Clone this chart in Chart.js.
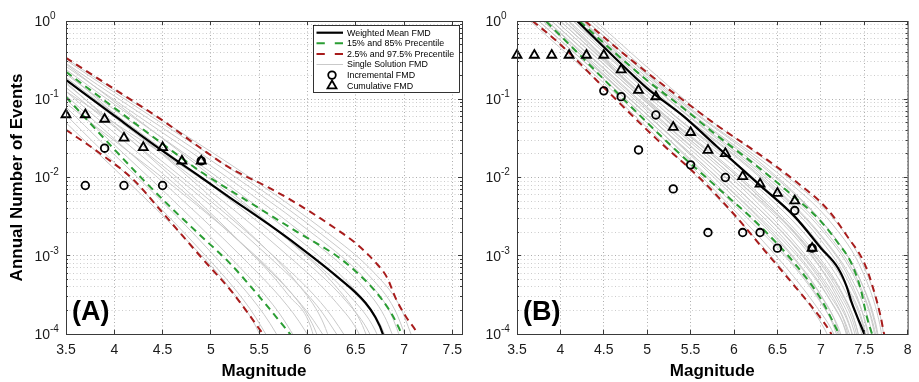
<!DOCTYPE html>
<html>
<head>
<meta charset="utf-8">
<script src="https://cdn.jsdelivr.net/npm/chart.js@4/dist/chart.umd.min.js"></script>
<style>
  body { margin: 0; background: #fff; }
  #wrap { position: relative; width: 919px; height: 382px; }
  #chartA { position: absolute; left: 0; top: 0; }
  #chartB { position: absolute; left: 470px; top: 0; }
</style>
</head>
<body>
<div id="wrap">
  <canvas id="chartA" width="470" height="382"></canvas>
  <canvas id="chartB" width="449" height="382"></canvas>
</div>
<script>
// ---- observed catalogue (magnitude bins of 0.2) ----
const binsA = [3.5, 3.7, 3.9, 4.1, 4.3, 4.5, 4.7, 4.9];
const incrementalA = [null, 0.0079, 0.0237, 0.0079, null, 0.0079, null, 0.0163];
const cumulativeA = [0.0636, 0.0636, 0.0557, 0.032, 0.0242, 0.0242, 0.0163, 0.0163];

const binsB = [3.5, 3.7, 3.9, 4.1, 4.3, 4.5, 4.7, 4.9, 5.1, 5.3, 5.5, 5.7, 5.9, 6.1, 6.3, 6.5, 6.7, 6.9];
const incrementalB = [null, null, null, null, null, 0.128, 0.108, 0.0225, 0.063, 0.00715, 0.0145, 0.00198, 0.0100, 0.00198, 0.00198, 0.00125, 0.00378, 0.00125];
const cumulativeB = [0.366, 0.366, 0.366, 0.366, 0.366, 0.366, 0.238, 0.130, 0.108, 0.0439, 0.0377, 0.0223, 0.0203, 0.0103, 0.00828, 0.0063, 0.00503, 0.00125];

// ---- model curves as log10(annual rate) ----
const meanA_m = [3.5, 4.0, 4.5, 4.9, 5.2, 5.6, 5.9, 6.3, 6.6, 6.7, 6.78, 6.82];
const meanA_log = [-0.754, -1.21, -1.66, -2.0, -2.26, -2.6, -2.87, -3.26, -3.6, -3.78, -4.0, -4.2];
const p85A_m = [3.5, 4.0, 4.5, 4.9, 5.3, 5.6, 5.9, 6.3, 6.5, 6.7, 6.85, 6.93, 6.97, 7.0];
const p85A_log = [-0.65, -1.11, -1.57, -1.93, -2.24, -2.47, -2.70, -3.0, -3.2, -3.45, -3.7, -3.88, -4.0, -4.2];
const p15A_m = [3.5, 4.0, 4.3, 4.6, 4.9, 5.2, 5.5, 5.82, 5.9];
const p15A_log = [-0.97, -1.64, -2.03, -2.4, -2.75, -3.1, -3.52, -4.0, -4.12];
const p975A_m = [3.5, 4.0, 4.5, 4.9, 5.2, 5.6, 5.9, 6.3, 6.5, 6.7, 6.82, 6.92, 7.02, 7.14, 7.2];
const p975A_log = [-0.47, -0.87, -1.27, -1.63, -1.88, -2.13, -2.34, -2.66, -2.84, -3.08, -3.27, -3.56, -3.78, -4.0, -4.2];
const p025A_m = [3.5, 3.85, 4.2, 4.5, 4.9, 5.23, 5.54, 5.6];
const p025A_log = [-1.39, -1.69, -2.03, -2.45, -3.02, -3.48, -4.0, -4.1];

const meanB_m = [4.1, 4.6, 5.0, 5.4, 5.8, 6.3, 6.7, 7.0, 7.2, 7.3, 7.35, 7.42, 7.5, 7.53];
const meanB_log = [0.1, -0.44, -0.86, -1.2, -1.6, -2.1, -2.5, -2.9, -3.16, -3.4, -3.58, -3.78, -4.0, -4.1];
const p85B_m = [4.12, 4.6, 5.0, 5.4, 5.8, 6.2, 6.6, 7.0, 7.2, 7.35, 7.46, 7.53, 7.59, 7.62];
const p85B_log = [0.1, -0.38, -0.76, -1.1, -1.46, -1.8, -2.16, -2.56, -2.84, -3.09, -3.43, -3.78, -4.0, -4.1];
const p15B_m = [3.74, 4.3, 4.8, 5.3, 5.8, 6.3, 6.7, 7.0, 7.2, 7.25];
const p15B_log = [0.1, -0.52, -1.08, -1.62, -2.12, -2.62, -3.1, -3.55, -3.98, -4.1];
const p975B_m = [4.18, 4.6, 5.0, 5.4, 5.8, 6.25, 6.7, 7.08, 7.31, 7.5, 7.61, 7.69, 7.73, 7.76];
const p975B_log = [0.1, -0.3, -0.66, -1.0, -1.33, -1.67, -2.04, -2.41, -2.76, -3.09, -3.44, -3.78, -4.0, -4.1];
const p025B_m = [3.57, 4.0, 4.5, 5.1, 5.6, 6.0, 6.35, 6.7, 7.0, 7.12, 7.16];
const p025B_log = [0.1, -0.3, -0.85, -1.5, -2.0, -2.47, -2.93, -3.39, -3.8, -4.0, -4.1];

// single solution FMDs, [magnitude, log10 rate]
const greyA = [
  [[3.5, -0.48], [6.2, -2.70], [6.7, -3.23], [6.95, -3.63], [7.1, -4.09]],
  [[3.5, -0.5], [6.15, -2.73], [6.65, -3.27], [6.9, -3.68], [7.05, -4.14]],
  [[3.5, -0.54], [6.1, -2.76], [6.6, -3.30], [6.85, -3.71], [7.0, -4.18]],
  [[3.5, -0.58], [6.05, -2.81], [6.55, -3.36], [6.8, -3.78], [6.95, -4.24]],
  [[3.5, -0.62], [6.0, -2.88], [6.5, -3.45], [6.75, -3.87], [6.9, -4.34]],
  [[3.5, -0.68], [5.95, -2.95], [6.45, -3.53], [6.7, -3.95], [6.85, -4.43]],
  [[3.5, -0.72], [5.9, -2.99], [6.4, -3.58], [6.65, -4.01], [6.8, -4.5]],
  [[3.5, -0.75], [5.8, -3.0], [6.3, -3.6], [6.55, -4.04], [6.65, -4.4]],
  [[3.5, -0.8], [5.7, -3.06], [6.2, -3.69], [6.45, -4.14]],
  [[3.5, -0.85], [5.6, -3.01], [6.1, -3.64], [6.35, -4.09]],
  [[3.5, -0.9], [5.5, -3.06], [6.0, -3.72], [6.25, -4.18]],
  [[3.5, -0.95], [5.35, -3.05], [5.85, -3.73], [6.1, -4.2]],
  [[3.5, -1.0], [5.2, -3.02], [5.7, -3.72], [5.95, -4.21]],
  [[3.5, -1.1], [5.05, -3.02], [5.55, -3.75], [5.8, -4.25]],
  [[3.5, -1.2], [4.9, -2.94], [5.4, -3.67], [5.65, -4.17]],
  [[3.5, -1.3], [4.75, -2.80], [5.25, -3.5], [5.5, -3.99], [5.65, -4.5]],
  [[3.5, -0.55], [5.8, -2.80], [6.3, -3.4], [6.55, -3.84], [6.7, -4.32]],
  [[3.5, -0.65], [5.4, -2.71], [5.9, -3.36], [6.15, -3.82], [6.3, -4.32]],
  [[3.5, -0.9], [6.0, -2.96], [6.5, -3.49], [6.75, -3.89], [6.9, -4.35]],
  [[3.5, -1.05], [5.3, -2.82], [5.8, -3.43], [6.05, -3.87], [6.2, -4.35]],
  [[3.5, -0.78], [5.3, -2.82], [5.8, -3.5], [6.05, -3.97], [6.12, -4.4]]
];
const greyB = [
  [[3.55, 0.1], [4.8, -1.15], [5.8, -2.25], [6.5, -3.1], [6.85, -3.6], [7.05, -3.95], [7.15, -4.2]],
  [[3.6, 0.1], [4.9, -1.2], [5.9, -2.3], [6.6, -3.15], [6.95, -3.65], [7.15, -4.0], [7.25, -4.3]],
  [[3.65, 0.1], [5.0, -1.25], [6.0, -2.35], [6.7, -3.15], [7.0, -3.6], [7.2, -4.0], [7.28, -4.3]],
  [[3.65, 0.1], [4.9, -1.15], [5.9, -2.2], [6.6, -3.0], [6.98, -3.55], [7.18, -4.0], [7.25, -4.3]],
  [[3.7, 0.1], [5.0, -1.2], [6.0, -2.25], [6.7, -3.05], [7.05, -3.6], [7.23, -4.0], [7.3, -4.3]],
  [[3.7, 0.1], [4.9, -1.1], [5.9, -2.1], [6.6, -2.9], [7.0, -3.5], [7.2, -3.95], [7.27, -4.3]],
  [[3.75, 0.1], [5.0, -1.15], [6.0, -2.15], [6.75, -3.0], [7.1, -3.55], [7.28, -3.95], [7.35, -4.3]],
  [[3.75, 0.1], [5.1, -1.3], [6.1, -2.3], [6.8, -3.1], [7.15, -3.65], [7.3, -4.0], [7.36, -4.3]],
  [[3.8, 0.1], [5.1, -1.2], [6.1, -2.2], [6.8, -3.0], [7.15, -3.55], [7.33, -4.0], [7.4, -4.3]],
  [[3.8, 0.1], [5.0, -1.12], [6.0, -2.1], [6.75, -2.95], [7.1, -3.5], [7.3, -3.95], [7.36, -4.3]],
  [[3.85, 0.1], [5.1, -1.15], [6.1, -2.1], [6.85, -2.95], [7.2, -3.5], [7.38, -3.95], [7.45, -4.3]],
  [[3.85, 0.1], [5.0, -1.05], [6.0, -2.0], [6.8, -2.85], [7.15, -3.45], [7.35, -3.95], [7.42, -4.3]],
  [[3.9, 0.1], [5.2, -1.2], [6.2, -2.15], [6.9, -2.95], [7.25, -3.5], [7.42, -3.95], [7.48, -4.3]],
  [[3.9, 0.1], [5.1, -1.12], [6.1, -2.05], [6.85, -2.9], [7.2, -3.45], [7.4, -3.95], [7.46, -4.3]],
  [[3.95, 0.1], [5.2, -1.15], [6.2, -2.05], [6.95, -2.9], [7.28, -3.45], [7.46, -3.95], [7.52, -4.3]],
  [[3.95, 0.1], [5.1, -1.1], [6.1, -2.02], [6.85, -2.85], [7.22, -3.42], [7.42, -3.95], [7.48, -4.3]],
  [[4.0, 0.1], [5.3, -1.2], [6.3, -2.1], [7.0, -2.9], [7.32, -3.45], [7.5, -3.95], [7.56, -4.3]],
  [[4.0, 0.1], [5.2, -1.25], [6.2, -2.25], [6.9, -3.1], [7.2, -3.6], [7.36, -4.0], [7.42, -4.3]],
  [[4.05, 0.1], [5.3, -1.12], [6.3, -2.0], [7.0, -2.8], [7.35, -3.4], [7.54, -3.95], [7.6, -4.3]],
  [[4.05, 0.1], [5.2, -1.1], [6.2, -1.98], [6.95, -2.8], [7.3, -3.38], [7.5, -3.92], [7.56, -4.3]],
  [[4.1, 0.1], [5.4, -1.15], [6.4, -2.05], [7.05, -2.8], [7.38, -3.35], [7.57, -3.9], [7.64, -4.3]],
  [[4.1, 0.1], [5.3, -1.1], [6.3, -1.98], [7.0, -2.75], [7.33, -3.3], [7.52, -3.9], [7.58, -4.3]],
  [[4.15, 0.1], [5.4, -1.1], [6.4, -1.97], [7.1, -2.75], [7.42, -3.3], [7.61, -3.9], [7.68, -4.3]],
  [[4.15, 0.1], [5.3, -1.05], [6.3, -1.92], [7.05, -2.72], [7.4, -3.3], [7.6, -3.9], [7.66, -4.3]],
  [[4.2, 0.1], [5.5, -1.17], [6.5, -2.02], [7.15, -2.75], [7.45, -3.3], [7.64, -3.9], [7.7, -4.3]],
  [[4.2, 0.1], [5.4, -1.05], [6.4, -1.9], [7.1, -2.68], [7.43, -3.25], [7.62, -3.85], [7.7, -4.3]],
  [[4.25, 0.1], [5.5, -1.12], [6.5, -1.94], [7.15, -2.62], [7.48, -3.2], [7.68, -3.88], [7.74, -4.3]],
  [[4.3, 0.1], [5.6, -1.16], [6.6, -1.98], [7.2, -2.6], [7.5, -3.15], [7.7, -3.85], [7.76, -4.3]]
];

// ---- axes ----
const xTicksA = [3.5, 4, 4.5, 5, 5.5, 6, 6.5, 7, 7.5];
const xTicksB = [3.5, 4, 4.5, 5, 5.5, 6, 6.5, 7, 7.5, 8];
const yTickExps = [0, -1, -2, -3, -4];
const yMantissas = [1, 2, 3, 4, 5, 6, 7, 8, 9];

const legendLabels = ['Weighted Mean FMD', '15% and 85% Precentile', '2.5% and 97.5% Precentile',
  'Single Solution FMD', 'Incremental FMD', 'Cumulative FMD'];

const GREEN = '#2a9d33';
const RED = '#a81c1c';
const GREY = '#c9c9c9';
const FONT = '"Liberation Sans", Arial, Helvetica, sans-serif';

const yGridValues = [];
yTickExps.forEach(e => yMantissas.forEach(k => {
  if (e < 0 || k === 1) yGridValues.push(k * Math.pow(10, e));
}));

function isDecade(v) {
  const l = Math.log10(v);
  return Math.abs(l - Math.round(l)) < 1e-6;
}

function curve(ms, logs) {
  return ms.map((m, i) => ({ x: m, y: Math.pow(10, logs[i]) }));
}

function markers(bins, vals) {
  return bins.map((m, i) => ({ x: m, y: vals[i] }));
}

function panelDatasets(bins, incr, cum, mean, p85, p15, p975, p025, greys) {
  const line = (label, data, color, width, dash, order) => ({
    label, data, borderColor: color, borderWidth: width, borderDash: dash,
    pointRadius: 0, cubicInterpolationMode: 'monotone', order
  });
  return [
    { label: 'Cumulative FMD', data: markers(bins, cum), showLine: false, pointStyle: 'triangle',
      pointRadius: 5.2, pointBorderWidth: 1.8, pointBorderColor: '#000',
      pointBackgroundColor: 'rgba(0,0,0,0)', clip: false, order: 0 },
    { label: 'Incremental FMD', data: markers(bins, incr), showLine: false, pointStyle: 'circle',
      pointRadius: 3.8, pointBorderWidth: 1.8, pointBorderColor: '#000',
      pointBackgroundColor: 'rgba(0,0,0,0)', clip: false, order: 1 },
    line('Weighted Mean FMD', mean, '#000', 2.2, [], 2),
    line('15% and 85% Precentile', p85, GREEN, 2, [7, 5], 3),
    line('15% lower', p15, GREEN, 2, [7, 5], 3),
    line('2.5% and 97.5% Precentile', p975, RED, 2, [7, 5], 4),
    line('2.5% lower', p025, RED, 2, [7, 5], 4),
    ...greys.map((g, i) => line(i === 0 ? 'Single Solution FMD' : 'single ' + i,
      g.map(p => ({ x: p[0], y: Math.pow(10, p[1]) })), GREY, 1, [], 10))
  ];
}

// box, inward ticks, y labels with exponents, panel letter, legend
const decorations = {
  id: 'decorations',
  afterDraw(chart, args, opts) {
    const { ctx, chartArea: a } = chart;
    const xs = chart.scales.x, ys = chart.scales.y;
    ctx.save();
    ctx.strokeStyle = '#3a3a3a';
    ctx.lineWidth = 1;
    ctx.beginPath();
    xs.ticks.forEach(t => {
      const px = Math.round(xs.getPixelForValue(t.value) - 0.5) + 0.5;
      ctx.moveTo(px, a.bottom); ctx.lineTo(px, a.bottom - 4);
      ctx.moveTo(px, a.top); ctx.lineTo(px, a.top + 4);
    });
    ys.ticks.forEach(t => {
      const py = Math.round(ys.getPixelForValue(t.value) - 0.5) + 0.5;
      const len = isDecade(t.value) ? 4 : 2;
      ctx.moveTo(a.left, py); ctx.lineTo(a.left + len, py);
      ctx.moveTo(a.right, py); ctx.lineTo(a.right - len, py);
    });
    ctx.stroke();
    ctx.strokeRect(a.left + 0.5, a.top + 0.5, a.right - a.left, a.bottom - a.top);

    // y tick labels 10^k
    ctx.fillStyle = '#1a1a1a';
    yTickExps.forEach(e => {
      const py = ys.getPixelForValue(Math.pow(10, e));
      ctx.font = '14px ' + FONT;
      ctx.textAlign = 'right';
      ctx.textBaseline = 'middle';
      ctx.fillText('10', a.left - 16, py + 1);
      ctx.font = '10px ' + FONT;
      ctx.textAlign = 'left';
      ctx.fillText(String(e), a.left - 16, py - 5);
    });

    // panel letter
    ctx.fillStyle = '#000';
    ctx.font = 'bold 27px ' + FONT;
    ctx.textAlign = 'left';
    ctx.textBaseline = 'alphabetic';
    ctx.fillText(opts.panel, a.left + 6, a.bottom - 14.5);

    if (opts.legend) {
      const bx = a.right - 149, by = a.top + 4, bw = 146, bh = 67;
      ctx.fillStyle = '#fff';
      ctx.fillRect(bx, by, bw, bh);
      ctx.strokeStyle = '#000';
      ctx.lineWidth = 0.8;
      ctx.strokeRect(bx + 0.5, by + 0.5, bw, bh);
      ctx.font = '8.9px ' + FONT;
      ctx.textBaseline = 'middle';
      legendLabels.forEach((label, i) => {
        const ds = chart.data.datasets.find(d => d.label === label);
        const ry = by + 7.7 + i * 10.6;
        ctx.save();
        if (ds.showLine === false) {
          const mx = bx + 19;
          ctx.strokeStyle = ds.pointBorderColor;
          ctx.lineWidth = ds.pointBorderWidth;
          ctx.beginPath();
          if (ds.pointStyle === 'circle') {
            ctx.arc(mx, ry, ds.pointRadius, 0, Math.PI * 2);
          } else {
            const r = ds.pointRadius;
            ctx.moveTo(mx, ry - r);
            ctx.lineTo(mx + r * 0.866, ry + r * 0.5);
            ctx.lineTo(mx - r * 0.866, ry + r * 0.5);
            ctx.closePath();
          }
          ctx.stroke();
        } else {
          ctx.strokeStyle = ds.borderColor;
          ctx.lineWidth = ds.borderWidth;
          ctx.setLineDash(ds.borderDash.length ? [8.3, 10] : []);
          ctx.beginPath();
          ctx.moveTo(bx + 3.5, ry);
          ctx.lineTo(bx + 30, ry);
          ctx.stroke();
        }
        ctx.restore();
        ctx.fillStyle = '#000';
        ctx.fillText(label, bx + 34, ry + 0.5);
      });
    }
    ctx.restore();
  }
};

function makeChart(id, datasets, xMax, xTicks, yWidth, yTitle, padRight, panel, legend) {
  return new Chart(document.getElementById(id), {
    type: 'line',
    data: { datasets },
    options: {
      responsive: false,
      animation: false,
      events: [],
      layout: { padding: { top: 21, right: padRight, bottom: 0, left: 0 } },
      plugins: {
        legend: { display: false },
        tooltip: { enabled: false },
        decorations: { panel, legend }
      },
      scales: {
        x: {
          type: 'linear',
          min: 3.5,
          max: xMax,
          afterBuildTicks: s => { s.ticks = xTicks.map(v => ({ value: v })); },
          afterFit: s => { s.height = 48; },
          ticks: {
            padding: 7.5,
            color: '#1a1a1a',
            font: { family: FONT, size: 14 },
            callback: v => String(v)
          },
          grid: { color: 'rgba(0,0,0,0.32)', drawTicks: false, borderDash: [1, 2.5] },
          border: { display: false, dash: [1, 2.5] },
          title: {
            display: true,
            text: 'Magnitude',
            color: '#000',
            font: { family: FONT, size: 17, weight: 'bold' },
            padding: { top: 0, bottom: 0 }
          }
        },
        y: {
          type: 'logarithmic',
          min: 1e-4,
          max: 1,
          afterBuildTicks: s => { s.ticks = yGridValues.map(v => ({ value: v })); },
          afterFit: s => { s.width = yWidth; },
          ticks: { display: false },
          grid: {
            color: c => (c.tick && isDecade(c.tick.value)) ? 'rgba(0,0,0,0.32)' : 'rgba(0,0,0,0.2)',
            drawTicks: false,
            borderDash: [1, 2.5]
          },
          border: { display: false, dash: [1, 2.5] },
          title: {
            display: yTitle,
            text: 'Annual Number of Events',
            color: '#000',
            font: { family: FONT, size: 17, weight: 'bold' },
            padding: { top: 7, bottom: 0 }
          }
        }
      }
    },
    plugins: [decorations]
  });
}

makeChart('chartA',
  panelDatasets(binsA, incrementalA, cumulativeA,
    curve(meanA_m, meanA_log), curve(p85A_m, p85A_log), curve(p15A_m, p15A_log),
    curve(p975A_m, p975A_log), curve(p025A_m, p025A_log), greyA),
  7.6, xTicksA, 66, true, 8, '(A)', true);

makeChart('chartB',
  panelDatasets(binsB, incrementalB, cumulativeB,
    curve(meanB_m, meanB_log), curve(p85B_m, p85B_log), curve(p15B_m, p15B_log),
    curve(p975B_m, p975B_log), curve(p025B_m, p025B_log), greyB),
  8, xTicksB, 47, false, 6, '(B)', false);
</script>
</body>
</html>
